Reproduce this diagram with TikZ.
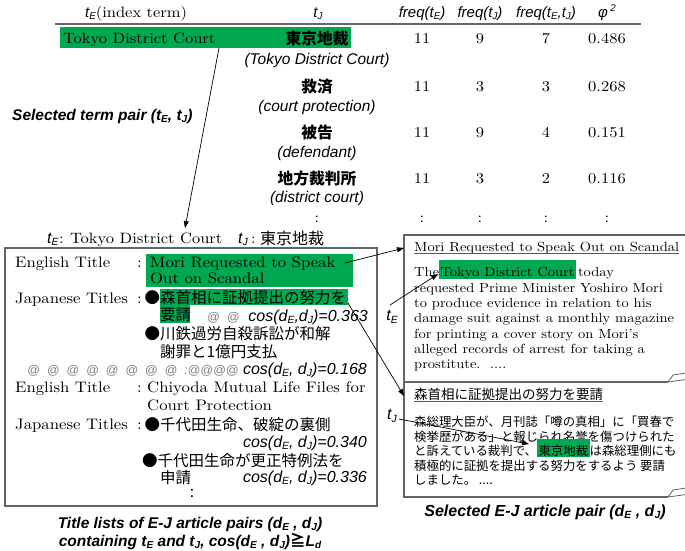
\documentclass[tikz,border=0pt]{standalone}
\usepackage{graphicx}
\usepackage{fontspec}
\setmainfont{lmroman10-regular.otf}[FakeStretch=1.1]
\setsansfont{Liberation Sans}
\newfontfamily\jp{Noto Sans CJK JP}
\usetikzlibrary{arrows.meta}
\definecolor{hlgreen}{RGB}{0,168,80}
\definecolor{framegray}{RGB}{100,100,100}
\newcommand\sbs[1]{\raisebox{-0.3ex}{\scalebox{0.65}{#1}}}
\newcommand\fsz[1]{\fontsize{#1}{#1}\selectfont}
\newcommand\hlt[3]{{\setlength\fboxsep{0pt}\colorbox{hlgreen}{\rule[-#2]{0pt}{#3}\kern1.5pt#1\kern1.5pt}}}
\tikzset{
  tw/.style={inner sep=0pt, anchor=base west},
  te/.style={inner sep=0pt, anchor=base east},
  tc/.style={inner sep=0pt, anchor=base},
  hsans/.style={font=\sffamily\itshape\fsz{15}},
  sansit/.style={font=\sffamily\itshape\fsz{15.5}},
  cosf/.style={font=\sffamily\itshape\fsz{16}},
  capf/.style={font=\sffamily\bfseries\itshape\fsz{15.5}},
  tab/.style={font=\fsz{15}},
  tabj/.style={font=\jp\bfseries\fsz{15.75}},
  lser/.style={font=\fsz{15.2}},
  ljp/.style={font=\jp\fsz{15.5}},
  rser/.style={font=\fsz{13.2}},
  rjp/.style={font=\jp\fsz{12.4}},
  atf/.style={font=\sffamily\itshape\fsz{12.5}, text=gray},
  conn/.style={line width=0.7pt, -{Triangle[length=7pt,width=5pt]}},
  frame/.style={draw=framegray, line width=1.1pt},
  rulestyle/.style={draw=gray!80!black, line width=2pt},
  uline/.style={draw=gray!70!black, line width=0.8pt},
}
\begin{document}
\begin{tikzpicture}[x=1pt,y=-1pt]
\useasboundingbox[fill=white] (0,0) rectangle (685,550);

% ---------- header ----------
\node[tw, font=\fsz{15}] (hE) at (85,17) {{\sffamily\itshape t\sbs{E}}(index term)};
\node[tc, hsans] (hJ) at (318,17) {t\sbs{J}};
\node[tc, hsans] (hf1) at (422,17) {freq(t\sbs{E})};
\node[tc, hsans] (hf2) at (480,17) {freq(t\sbs{J})};
\node[tc, hsans] (hf3) at (546,17) {freq(t\sbs{E},t\sbs{J})};
\node[tc, hsans] (hphi) at (607,17) {φ\,\raisebox{0.7ex}{\scalebox{0.65}{2}}};
\draw[rulestyle] (55,24) -- (641,24);

% ---------- table rows ----------
\fill[hlgreen] (60,27) rectangle (351,48);
\node[tw, tab] (r1e) at (63,43.5) {Tokyo District Court};
\node[tc, tabj] (r1j) at (317,44) {東京地裁};
\node[tc, sansit] (r1t) at (317,64) {(Tokyo District Court)};
\node[tc, tabj] (r2j) at (317,92) {救済};
\node[tc, sansit] (r2t) at (317,111) {(court protection)};
\node[tc, tabj] (r3j) at (317,138) {被告};
\node[tc, sansit] (r3t) at (317,157) {(defendant)};
\node[tc, tabj] (r4j) at (317,184) {地方裁判所};
\node[tc, sansit] (r4t) at (317,202) {(district court)};

\node[tc, tab] (n11) at (422,43.5) {11};
\node[tc, tab] (n12) at (480,43.5) {9};
\node[tc, tab] (n13) at (546,43.5) {7};
\node[tc, tab] (n14) at (607,43.5) {0.486};
\node[tc, tab] (n21) at (422,91) {11};
\node[tc, tab] (n22) at (480,91) {3};
\node[tc, tab] (n23) at (546,91) {3};
\node[tc, tab] (n24) at (607,91) {0.268};
\node[tc, tab] (n31) at (422,137) {11};
\node[tc, tab] (n32) at (480,137) {9};
\node[tc, tab] (n33) at (546,137) {4};
\node[tc, tab] (n34) at (607,137) {0.151};
\node[tc, tab] (n41) at (422,183) {11};
\node[tc, tab] (n42) at (480,183) {3};
\node[tc, tab] (n43) at (546,183) {2};
\node[tc, tab] (n44) at (607,183) {0.116};
\node[tc, tab] (c0) at (317,222) {:};
\node[tc, tab] (c1) at (422,222) {:};
\node[tc, tab] (c2) at (480,222) {:};
\node[tc, tab] (c3) at (546,222) {:};
\node[tc, tab] (c4) at (607,222) {:};

\node[tw, capf] (stp) at (12,120) {Selected term pair (t\sbs{E}, t\sbs{J})};

\coordinate (gA) at (219,48);
\coordinate (lA) at (185,228);
\draw[conn] (gA) -- (lA);

% ---------- term-pair label ----------
\node[tw, font=\sffamily\itshape\fsz{16}] (lbE) at (47,243) {t\sbs{E}};
\node[tw, tab] (lbc1) at (59,243) {:};
\node[tw, tab] (lbT) at (70,243) {Tokyo District Court};
\node[tw, font=\sffamily\itshape\fsz{16}] (lbJ) at (238,243) {t\sbs{J}};
\node[tw, tab] (lbc2) at (251,243) {:};
\node[tw, font=\jp\fsz{16}] (lbK) at (260,244) {東京地裁};

% ---------- left box ----------
\draw[frame] (5,248) rectangle (377,506);
\fill[hlgreen] (146,254) rectangle (353,287);
\fill[hlgreen] (160,289) rectangle (348,305);
\fill[hlgreen] (160,305) rectangle (190,323);

\node[tw, lser] (L1a) at (15,267) {English Title};
\node[tw, lser] (L1c) at (137,267) {:};
\node[tw, lser] (L1b) at (150,267) {Mori Requested to Speak};
\node[tw, lser] (L2b) at (150,283) {Out on Scandal};
\node[tw, lser] (L3a) at (15,303) {Japanese Titles};
\node[tw, lser] (L3c) at (137,303) {:};
\node[tw, ljp] (L3b) at (144.5,303) {●森首相に証拠提出の努力を};
\node[tw, ljp] (L4b) at (160,320) {要請};
\node[tw, atf] (L4at) at (207,321) {@ \ @};
\node[te, cosf] (L4c) at (368,321) {cos(d\sbs{E},d\sbs{J})=0.363};
\node[tw, ljp] (L5b) at (144.5,339) {●川鉄過労自殺訴訟が和解};
\node[tw, ljp] (L6b) at (160,357) {謝罪と1億円支払};
\node[tw, atf] (L7at) at (27,374) {@ \ @ \ @ \ @ \ @ \ @ \ @ \ @ \ :@@@@};
\node[te, cosf] (L7c) at (367,374) {cos(d\sbs{E}, d\sbs{J})=0.168};
\node[tw, lser] (L8a) at (15,392) {English Title};
\node[tw, lser] (L8c) at (137,392) {:};
\node[tw, lser] (L8b) at (147,392) {Chiyoda Mutual Life Files for};
\node[tw, lser] (L9b) at (147,410) {Court Protection};
\node[tw, lser] (L10a) at (15,429) {Japanese Titles};
\node[tw, lser] (L10c) at (137,429) {:};
\node[tw, ljp] (L10b) at (144.5,430) {●千代田生命、破綻の裏側};
\node[te, cosf] (L11c) at (367,447) {cos(d\sbs{E}, d\sbs{J})=0.340};
\node[tw, ljp] (L12b) at (142,466) {●千代田生命が更正特例法を};
\node[tw, ljp] (L13b) at (160,483) {申請};
\node[te, cosf] (L13c) at (367,482) {cos(d\sbs{E}, d\sbs{J})=0.336};
\node[tc, ljp] (L14) at (192,497) {:};

\node[tc, capf] (capL1) at (190,528.5) {Title lists of E-J article pairs (d\sbs{E} , d\sbs{J})};
\node[tc, capf] (capL2) at (190,546.5) {containing t\sbs{E} and t\sbs{J}, cos(d\sbs{E} , d\sbs{J}){\jp\bfseries ≧}L\sbs{d}};

% ---------- right boxes ----------
\draw[frame] (690,235) -- (404,235) -- (404,497) -- (668,497);
\draw[frame] (404,382) -- (668,382);
\draw[frame, line width=0.8pt] (668,382) -- (673,375) -- (686,373);
\draw[frame, line width=0.8pt] (668,382) -- (686,379.5);
\draw[frame, line width=0.8pt] (668,497) -- (673,490) -- (686,488);
\draw[frame, line width=0.8pt] (668,497) -- (686,494.5);

\node[tw, rser] (R1t) at (414,251) {Mori Requested to Speak Out on Scandal};
\draw[uline] ([yshift=-2pt]R1t.base west) -- ([yshift=-2pt]R1t.base east);
\node[tw, rser] (R1a) at (414,276.5) {The\hlt{Tokyo District Court}{2.5pt}{19pt}\kern2pt today};
\node[tw, rser] (R1b) at (414,292) {requested Prime Minister Yoshiro Mori};
\node[tw, rser] (R1c) at (414,307.3) {to produce evidence in relation to his};
\node[tw, rser] (R1d) at (414,322.6) {damage suit against a monthly magazine};
\node[tw, rser] (R1e) at (414,338) {for printing a cover story on Mori's};
\node[tw, rser] (R1f) at (414,353.3) {alleged records of arrest for taking a};
\node[tw, rser] (R1g) at (414,368.6) {prostitute.\ \ ....};

\node[tw, font=\jp\fsz{13.5}] (R2t) at (414,399) {森首相に証拠提出の努力を要請};
\draw[uline] ([yshift=-2.5pt]R2t.base west) -- ([yshift=-2.5pt]R2t.base east);
\node[tw, rjp] (R2a) at (414,426.5) {森総理大臣が、月刊誌「噂の真相」に「買春で};
\node[tw, rjp] (R2b) at (414,441) {検挙歴がある」と報じられ名誉を傷つけられた};
\node[tw, rjp] (R2c) at (414,455.5) {と訴えている裁判で、\hlt{東京地裁}{1.8pt}{18pt}は森総理側にも};
\node[tw, rjp] (R2d) at (414,470) {積極的に証拠を提出する努力をするよう 要請};
\node[tw, rjp] (R2e) at (414,484.5) {しました。 ....};

\node[tc, capf, font=\sffamily\bfseries\itshape\fsz{16}] (capR) at (545,516) {Selected E-J article pair (d\sbs{E} , d\sbs{J})};

% ---------- connectors ----------
\coordinate (e1s) at (345,263);
\coordinate (e1t) at (404,248);
\draw[conn] (e1s) -- (e1t);
\coordinate (e2s) at (348,303);
\coordinate (e2t) at (404,396);
\draw[conn] (e2s) -- (e2t);
\node[inner sep=0pt, font=\sffamily\itshape\fsz{16}] (tEl) at (392,317) {t\sbs{E}};
\node[inner sep=0pt, font=\sffamily\itshape\fsz{16}] (tJl) at (392,416) {t\sbs{J}};
\coordinate (e3s) at (390,305);
\coordinate (e3t) at (438,274);
\draw[conn] (e3s) -- (e3t);
\coordinate (e4s) at (399,419);
\coordinate (e4t) at (529,444);
\draw[conn] (e4s) -- (e4t);
\end{tikzpicture}
\end{document}
